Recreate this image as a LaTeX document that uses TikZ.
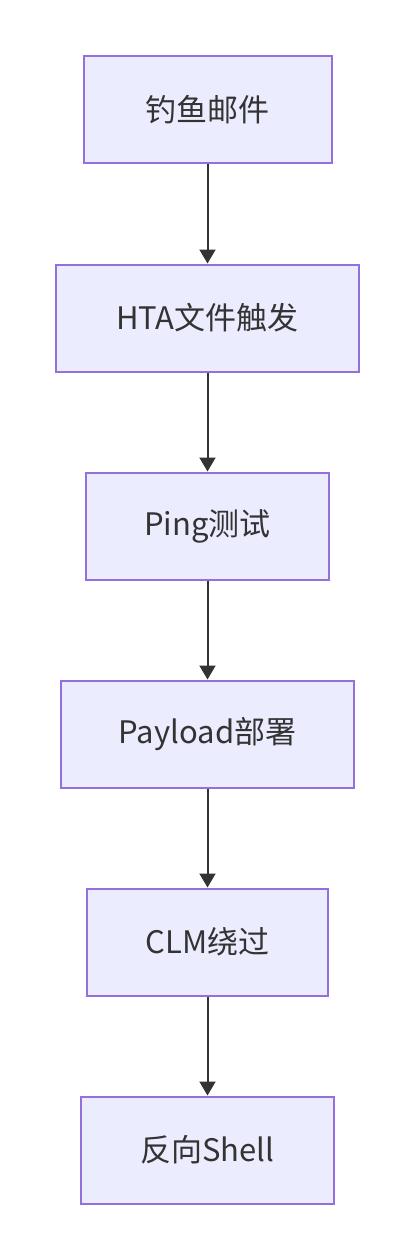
\documentclass[tikz,border=0pt]{standalone}
\usepackage{fontspec}
\setmainfont{Noto Sans CJK SC}
\usetikzlibrary{arrows.meta}
\definecolor{boxfill}{HTML}{ECECFF}
\definecolor{boxline}{HTML}{9370DB}
\definecolor{ink}{HTML}{333333}
\tikzset{
  flowbox/.style={draw=boxline, fill=boxfill, line width=2pt, text=ink, font=\fontsize{31}{37}\selectfont, inner sep=0pt, anchor=center},
  flowarrow/.style={draw=ink, line width=2pt, -{Triangle[length=14pt,width=16pt]}}
}
\begin{document}
\begin{tikzpicture}[x=1pt,y=-1pt]
\useasboundingbox (0,0) rectangle (415,1260);
\node[flowbox, minimum width=248pt, minimum height=107pt] (a) at (207.5,110) {钓鱼邮件};
\node[flowbox, minimum width=303pt, minimum height=107pt] (b) at (207.5,318) {HTA文件触发};
\node[flowbox, minimum width=243pt, minimum height=107pt] (c) at (207.5,526) {Ping测试};
\node[flowbox, minimum width=293pt, minimum height=107pt] (d) at (207.5,734) {Payload部署};
\node[flowbox, minimum width=241pt, minimum height=107pt] (e) at (207.5,942) {CLM绕过};
\node[flowbox, minimum width=253pt, minimum height=107pt] (f) at (207.5,1150) {反向Shell};
\draw[flowarrow] (a.south) -- (b.north);
\draw[flowarrow] (b.south) -- (c.north);
\draw[flowarrow] (c.south) -- (d.north);
\draw[flowarrow] (d.south) -- (e.north);
\draw[flowarrow] (e.south) -- (f.north);
\end{tikzpicture}
\end{document}
